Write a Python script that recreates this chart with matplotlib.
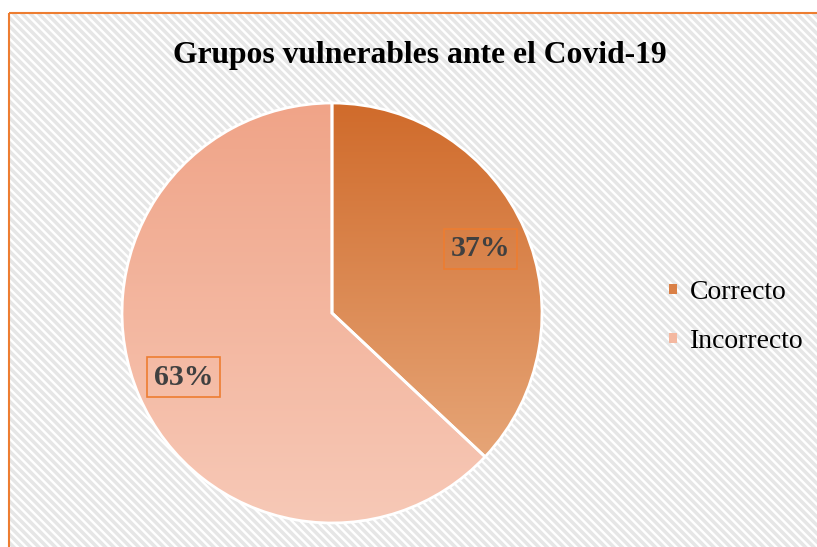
import numpy as np
import matplotlib
matplotlib.use("Agg")
import matplotlib.pyplot as plt
from matplotlib.patches import Rectangle, Patch
from matplotlib.colors import LinearSegmentedColormap

# Data
categories = ["Correcto", "Incorrecto"]
values = [37, 63]
title = "Grupos vulnerables ante el Covid-19"
top_colors = ["#D06B2B", "#F0A488"]
bottom_colors = ["#E6A577", "#F7C9B7"]

W, H = 817, 547
plt.rcParams["hatch.linewidth"] = 2.5
fig = plt.figure(figsize=(W / 100, H / 100), dpi=100)
fig.patch.set_facecolor("white")

# background axes in pixel coordinates
bg = fig.add_axes([0, 0, 1, 1])
bg.set_xlim(0, W)
bg.set_ylim(H, 0)
bg.axis("off")
hatch_rect = Rectangle((9, 13), W + 20, H + 20, facecolor="white",
                       edgecolor="#e6e6e6", linewidth=0, hatch="\\\\\\\\", zorder=0)
bg.add_patch(hatch_rect)
bg.add_patch(Rectangle((9, 13), W + 20, H + 20, facecolor="none",
                       edgecolor="#ED7D31", linewidth=1.5, zorder=1))

bg.text(420, 55, title, ha="center", va="center", fontsize=22.8,
        fontweight="bold", family="Liberation Serif", color="black")

# pie axes
cx, cy, r = 332, 313, 210
ax = fig.add_axes([(cx - r) / W, (H - cy - r) / H, 2 * r / W, 2 * r / H])
ax.set_facecolor("none")
wedges, texts, autotexts = ax.pie(
    values, startangle=90, counterclock=False, radius=1,
    autopct="%1.0f%%", pctdistance=0.77,
    wedgeprops=dict(facecolor="none", edgecolor="white", linewidth=2),
)
ax.axis("off")

for i, w in enumerate(wedges):
    verts = w.get_path().vertices
    y0, y1 = verts[:, 1].min(), verts[:, 1].max()
    x0, x1 = verts[:, 0].min(), verts[:, 0].max()
    cmap = LinearSegmentedColormap.from_list("g%d" % i, [bottom_colors[i], top_colors[i]])
    grad = np.linspace(0, 1, 256).reshape(-1, 1)
    im = ax.imshow(grad, cmap=cmap, extent=[x0, x1, y0, y1], origin="lower",
                   aspect="auto", zorder=1, interpolation="bilinear")
    im.set_clip_path(w)
    w.set_zorder(2)

ax.set_xlim(-1, 1)
ax.set_ylim(-1, 1)

for t in autotexts:
    t.set_fontsize(21.5)
    t.set_fontweight("bold")
    t.set_family("Liberation Serif")
    t.set_color("#404040")
    t.set_zorder(3)
    t.set_bbox(dict(facecolor="none", edgecolor="#ED7D31", linewidth=1.2,
                    boxstyle="square,pad=0.22"))

handles = [Patch(facecolor=c, edgecolor="none") for c in ["#DA8046", "#F4B8A0"]]
leg = fig.legend(handles, categories, loc="center left",
                 bbox_to_anchor=(644 / W, 1 - 317 / H), frameon=False,
                 prop=dict(family="Liberation Serif", size=20),
                 handlelength=0.3, handleheight=0.2, handletextpad=0.45,
                 labelspacing=0.85)

fig.savefig("out.png", dpi=100)
